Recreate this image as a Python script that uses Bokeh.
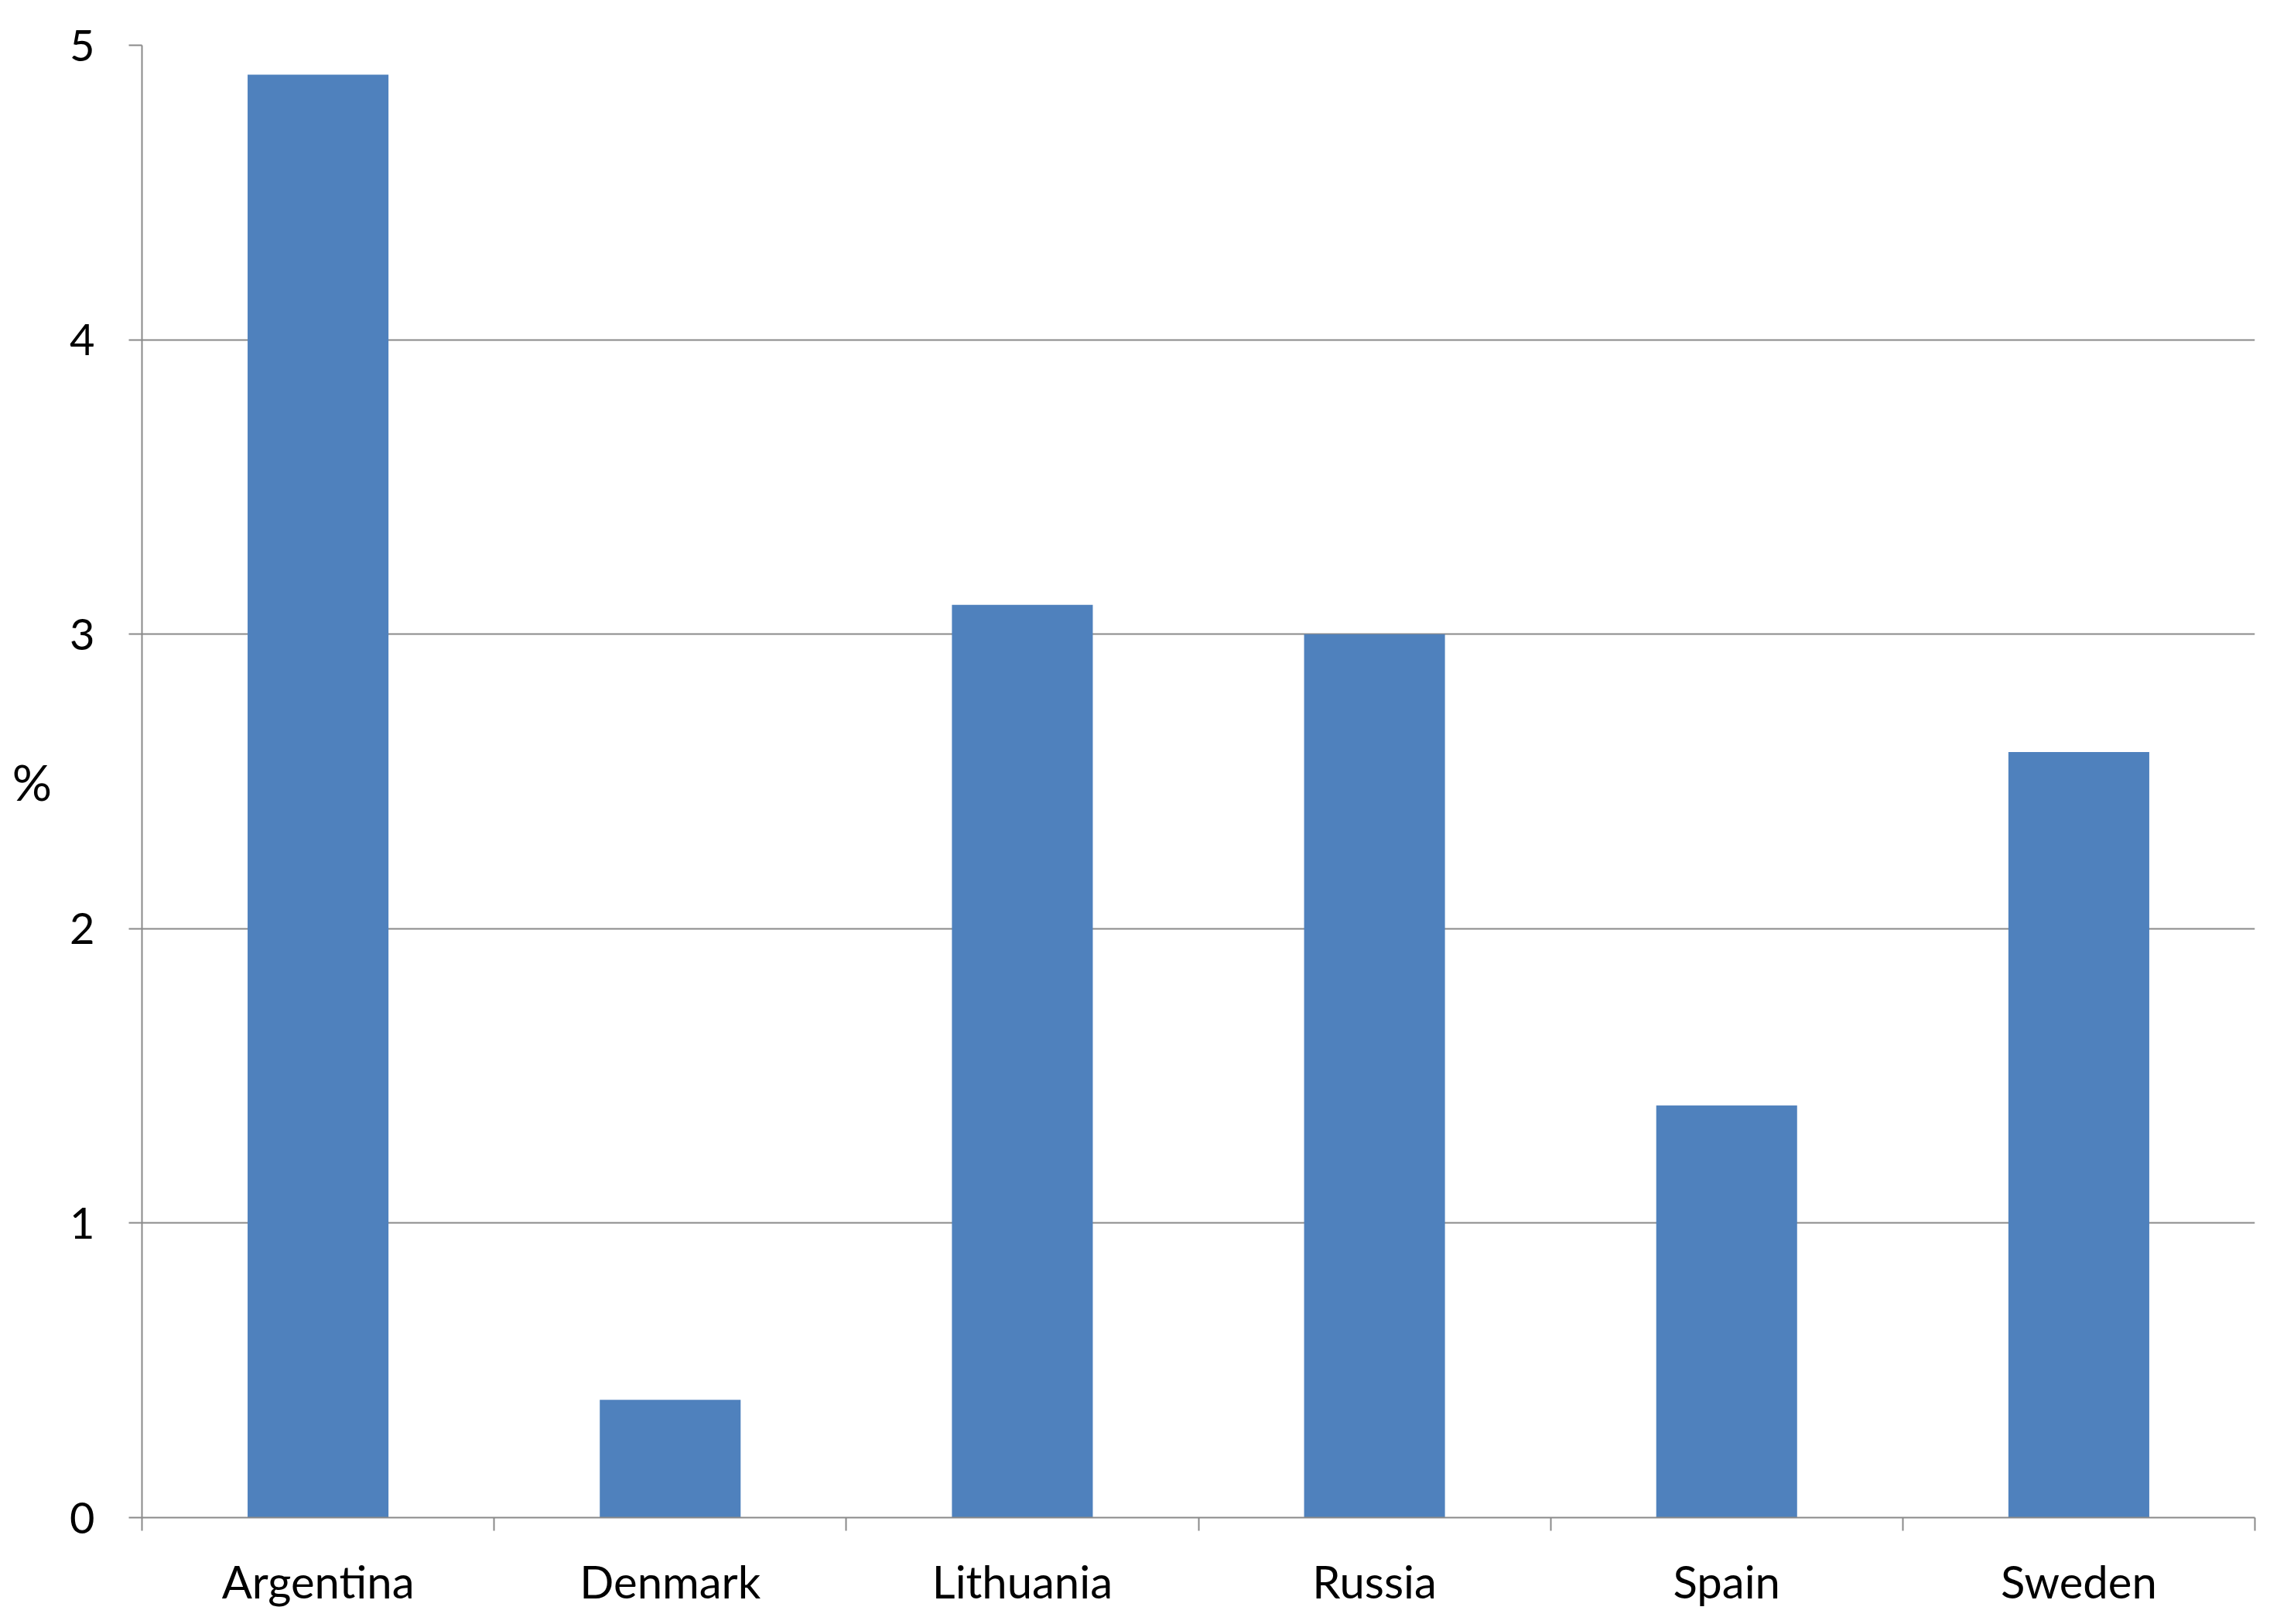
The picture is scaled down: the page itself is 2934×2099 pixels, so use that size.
from bokeh.plotting import figure
from bokeh.models import FixedTicker, Range1d, ColumnDataSource
from bokeh.embed import file_html
from bokeh.resources import INLINE

categories = ["Argentina", "Denmark", "Lithuania", "Russia", "Spain", "Sweden"]
values = [4.9, 0.4, 3.1, 3.0, 1.4, 2.6]
y_ticks = [0, 1, 2, 3, 4, 5]

centers = [i + 0.5 for i in range(len(categories))]
src = ColumnDataSource(dict(x=centers, top=values, cat=categories))

FONT = "Lato"
GRAY = "#8a8a8a"
BAR = "#4F81BD"

p = figure(width=2916, height=2080, output_backend="svg", toolbar_location=None,
           x_range=Range1d(0, len(categories)), y_range=Range1d(0, 5),
           min_border_left=183, min_border_right=2, min_border_top=58, min_border_bottom=115)
p.outline_line_color = None
p.background_fill_color = "white"
p.border_fill_color = "white"

p.vbar(x="x", top="top", bottom=0, width=0.4, source=src, fill_color=BAR, line_color=None)

# y axis
p.yaxis.ticker = FixedTicker(ticks=y_ticks)
p.yaxis.axis_line_color = GRAY
p.yaxis.axis_line_width = 2
p.yaxis.major_tick_line_color = GRAY
p.yaxis.major_tick_line_width = 2
p.yaxis.major_tick_out = 17
p.yaxis.major_tick_in = 0
p.yaxis.minor_tick_line_color = None
p.yaxis.major_label_text_font = FONT
p.yaxis.major_label_text_font_size = "56px"
p.yaxis.major_label_text_color = "black"
p.yaxis.major_label_standoff = 44
p.yaxis.axis_label = "%"
p.yaxis.axis_label_orientation = "horizontal"
p.yaxis.axis_label_text_font = FONT
p.yaxis.axis_label_text_font_size = "64px"
p.yaxis.axis_label_text_font_style = "normal"
p.yaxis.axis_label_text_color = "black"
p.yaxis.axis_label_standoff = 20

# x axis: labels at centers, ticks at category boundaries
p.xaxis.ticker = FixedTicker(ticks=centers, minor_ticks=list(range(len(categories) + 1)))
p.xaxis.major_label_overrides = {c: name for c, name in zip(centers, categories)}
p.xaxis.axis_line_color = GRAY
p.xaxis.axis_line_width = 2
p.xaxis.major_tick_line_color = None
p.xaxis.major_tick_out = 0
p.xaxis.major_tick_in = 0
p.xaxis.minor_tick_line_color = GRAY
p.xaxis.minor_tick_line_width = 2
p.xaxis.minor_tick_out = 17
p.xaxis.minor_tick_in = 0
p.xaxis.major_label_text_font = FONT
p.xaxis.major_label_text_font_size = "58px"
p.xaxis.major_label_text_color = "black"
p.xaxis.major_label_standoff = 30

p.xgrid.grid_line_color = None
p.ygrid.ticker = FixedTicker(ticks=y_ticks[1:])
p.ygrid.grid_line_color = GRAY
p.ygrid.grid_line_width = 2

open("out.html", "w").write(file_html(p, INLINE))
